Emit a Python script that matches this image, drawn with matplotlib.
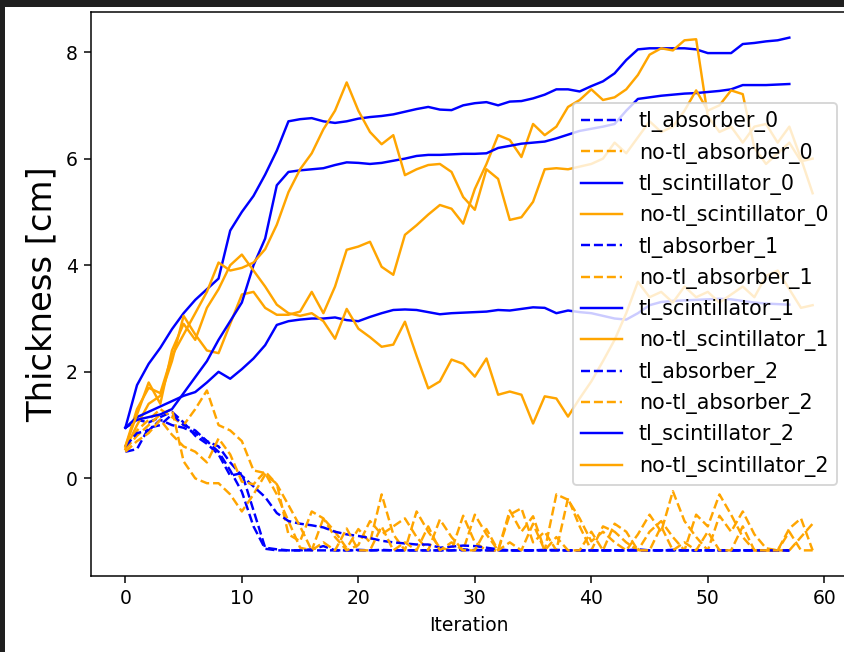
import matplotlib
matplotlib.use("Agg")
import matplotlib.pyplot as plt
from matplotlib.patches import Rectangle

# iterations
it_tl = list(range(58))
it_notl = list(range(60))

# absorber thickness (dashed)
tl_absorber = [
    [0.95, 1.1, 1.05, 1.15, 1.25, 1.05, 0.8, 0.65, 0.45, 0.05, 0.1, -0.6, -1.3, -1.33, -1.35,
     -1.35, -1.33, -1.27, -1.35, -1.35, -1.35, -1.35, -1.34, -1.35, -1.35, -1.35, -1.35, -1.35, -1.35, -1.35,
     -1.34, -1.35, -1.35, -1.35, -1.35, -1.35, -1.35, -1.34, -1.35, -1.35, -1.35, -1.35, -1.35, -1.35, -1.35,
     -1.35, -1.35, -1.34, -1.35, -1.35, -1.35, -1.35, -1.35, -1.35, -1.35, -1.35, -1.35, -1.35],
    [0.5, 0.55, 0.95, 1.0, 1.2, 1.0, 0.9, 0.7, 0.5, 0.15, -0.25, -0.9, -1.32, -1.35, -1.35,
     -1.35, -1.35, -1.35, -1.35, -1.35, -1.34, -1.35, -1.35, -1.35, -1.35, -1.35, -1.35, -1.35, -1.35, -1.33,
     -1.35, -1.35, -1.35, -1.35, -1.35, -1.35, -1.34, -1.35, -1.35, -1.35, -1.35, -1.35, -1.35, -1.35, -1.33,
     -1.35, -1.35, -1.35, -1.35, -1.35, -1.35, -1.35, -1.35, -1.35, -1.35, -1.35, -1.35, -1.35],
    [0.6, 0.85, 0.9, 1.1, 1.0, 0.95, 0.85, 0.7, 0.6, 0.3, 0.05, -0.15, -0.35, -0.65, -0.8,
     -0.85, -0.88, -0.92, -1.0, -1.05, -1.08, -1.12, -1.17, -1.2, -1.22, -1.24, -1.24, -1.3, -1.28, -1.26,
     -1.27, -1.3, -1.33, -1.35, -1.35, -1.35, -1.35, -1.35, -1.35, -1.35, -1.35, -1.35, -1.35, -1.35, -1.35,
     -1.35, -1.35, -1.35, -1.35, -1.35, -1.35, -1.35, -1.35, -1.35, -1.35, -1.35, -1.35, -1.35],
]
notl_absorber = [
    [0.6, 0.9, 1.1, 1.3, 1.15, 1.0, 1.3, 1.65, 1.0, 0.9, 0.7, 0.15, 0.1, -0.3, -0.8,
     -1.3, -1.35, -0.75, -1.0, -1.31, -0.95, -1.2, -0.3, -1.05, -1.35, -0.62, -1.0, -1.3, -1.35, -0.7,
     -1.2, -1.35, -1.35, -0.6, -1.0, -0.71, -1.35, -0.3, -0.4, -0.75, -1.18, -1.0, -1.2, -1.35, -1.05,
     -0.68, -1.0, -0.24, -0.8, -1.1, -1.35, -0.7, -1.0, -0.62, -1.05, -1.31, -1.35, -0.94, -0.75, -1.35],
    [0.55, 0.8, 1.0, 1.2, 1.3, 0.32, 0.0, -0.09, -0.09, -0.3, -0.62, -0.3, 0.07, -0.1, -1.05,
     -1.18, -0.62, -0.75, -1.1, -1.35, -1.25, -0.8, -1.05, -0.9, -0.75, -1.1, -1.35, -0.77, -1.1, -1.35,
     -0.68, -1.05, -1.35, -0.68, -0.56, -1.2, -1.0, -1.35, -0.37, -0.9, -1.35, -0.9, -1.0, -1.2, -1.35,
     -1.0, -0.8, -1.1, -1.35, -0.68, -0.9, -0.3, -0.68, -1.1, -1.35, -1.35, -1.35, -1.35, -1.1, -0.85],
    [0.5, 0.7, 0.85, 1.1, 0.82, 0.6, 0.5, 0.3, 0.75, 0.45, -0.06, -0.11, 0.13, -0.11, -0.5,
     -0.9, -1.35, -1.2, -1.35, -0.94, -1.35, -1.35, -0.9, -1.35, -1.2, -1.35, -0.9, -1.35, -1.2, -1.35,
     -1.35, -0.95, -1.35, -1.2, -1.35, -0.85, -1.35, -1.1, -1.35, -1.35, -1.0, -1.35, -0.85, -1.0, -1.35,
     -1.35, -0.9, -1.35, -1.2, -1.35, -1.0, -1.35, -1.35, -0.9, -1.35, -1.35, -1.35, -1.0, -1.35, -1.35],
]

# scintillator thickness (solid)
tl_scintillator = [
    [0.95, 1.75, 2.15, 2.45, 2.8, 3.1, 3.35, 3.55, 3.75, 4.65, 5.0, 5.3, 5.7, 6.15, 6.7,
     6.74, 6.76, 6.7, 6.67, 6.7, 6.75, 6.78, 6.8, 6.83, 6.88, 6.93, 6.97, 6.92, 6.91, 7.0,
     7.04, 7.06, 7.0, 7.07, 7.08, 7.13, 7.2, 7.3, 7.3, 7.26, 7.36, 7.45, 7.6, 7.85, 8.05,
     8.07, 8.07, 8.07, 8.07, 8.05, 7.98, 7.98, 7.98, 8.15, 8.17, 8.2, 8.22, 8.27],
    [0.95, 1.1, 1.15, 1.2, 1.3, 1.6, 1.9, 2.2, 2.6, 2.95, 3.3, 4.0, 4.5, 5.5, 5.75,
     5.78, 5.8, 5.82, 5.88, 5.93, 5.92, 5.9, 5.92, 5.96, 6.0, 6.05, 6.07, 6.07, 6.08, 6.09,
     6.09, 6.1, 6.2, 6.24, 6.28, 6.3, 6.32, 6.38, 6.45, 6.52, 6.56, 6.6, 6.65, 6.9, 7.12,
     7.15, 7.18, 7.2, 7.22, 7.23, 7.25, 7.27, 7.3, 7.38, 7.38, 7.38, 7.39, 7.4],
    [0.95, 1.15, 1.25, 1.35, 1.45, 1.55, 1.62, 1.8, 2.0, 1.87, 2.05, 2.25, 2.5, 2.88, 2.95,
     2.98, 3.0, 3.0, 3.02, 2.97, 2.95, 3.03, 3.1, 3.16, 3.17, 3.16, 3.12, 3.08, 3.1, 3.11,
     3.12, 3.13, 3.16, 3.15, 3.18, 3.21, 3.2, 3.1, 3.15, 3.12, 3.1, 3.05, 3.0, 2.98, 3.1,
     3.25, 3.31, 3.33, 3.34, 3.35, 3.36, 3.37, 3.36, 3.33, 3.3, 3.28, 3.27, 3.26],
]
notl_scintillator = [
    [0.55, 1.0, 1.4, 1.55, 2.2, 3.05, 2.7, 2.4, 2.35, 2.9, 3.45, 3.5, 3.2, 3.07, 3.07,
     3.13, 3.5, 3.1, 3.6, 4.29, 4.35, 4.44, 3.97, 3.82, 4.57, 4.75, 4.95, 5.13, 5.06, 4.78,
     5.43, 5.9, 6.44, 6.35, 6.03, 6.65, 6.44, 6.6, 6.97, 7.1, 7.3, 7.1, 7.15, 7.3, 7.57,
     7.95, 8.07, 8.03, 8.22, 8.24, 6.8, 6.5, 6.6, 6.3, 6.6, 6.65, 6.3, 6.6, 6.0, 5.35],
    [0.6, 1.3, 1.7, 1.6, 2.3, 2.7, 3.1, 3.5, 4.05, 3.9, 3.95, 4.05, 4.3, 4.76, 5.37,
     5.8, 6.1, 6.55, 6.9, 7.43, 6.9, 6.5, 6.27, 6.44, 5.69, 5.8, 5.88, 5.9, 5.75, 5.28,
     5.04, 5.8, 5.62, 4.85, 4.9, 5.19, 5.8, 5.82, 5.8, 5.85, 5.9, 6.0, 6.3, 6.1, 6.4,
     6.7, 6.5, 6.6, 6.9, 7.28, 6.9, 7.0, 7.28, 7.21, 6.2, 5.9, 6.1, 6.3, 5.95, 6.0],
    [0.6, 1.2, 1.8, 1.4, 2.4, 2.9, 2.6, 3.2, 3.55, 4.0, 4.2, 3.9, 3.6, 3.26, 3.1,
     3.05, 3.1, 2.95, 2.62, 3.18, 2.81, 2.65, 2.47, 2.51, 2.94, 2.3, 1.69, 1.82, 2.23, 2.15,
     1.91, 2.25, 1.57, 1.63, 1.57, 1.03, 1.54, 1.5, 1.16, 1.5, 1.82, 2.2, 2.6, 3.1, 3.69,
     3.4, 3.5, 3.3, 3.6, 3.4, 3.5, 3.3, 3.45, 3.6, 3.4, 3.8, 3.9, 3.55, 3.2, 3.25],
]

dpi = 135
fig = plt.figure(figsize=(844 / dpi, 652 / dpi), dpi=dpi)
# dark screenshot border around the white output cell
fig.patch.set_facecolor('#1f1f1f')
fig.patches.append(Rectangle((5 / 844, 0), 1, (652 - 7) / 652, transform=fig.transFigure,
                             facecolor='white', edgecolor='none', zorder=-1))

ax = fig.add_axes([91 / 844, 1 - 576 / 652, (847 - 91) / 844, (576 - 12) / 652])

lw = 1.3
for i in range(3):
    ax.plot(it_tl, tl_absorber[i], '--', color='blue', lw=lw, label='tl_absorber_%d' % i)
    ax.plot(it_notl, notl_absorber[i], '--', color='orange', lw=lw, label='no-tl_absorber_%d' % i)
    ax.plot(it_tl, tl_scintillator[i], '-', color='blue', lw=lw, label='tl_scintillator_%d' % i)
    ax.plot(it_notl, notl_scintillator[i], '-', color='orange', lw=lw, label='no-tl_scintillator_%d' % i)

ax.set_xlabel('Iteration')
ax.set_ylabel('Thickness [cm]', fontsize=18)
ax.legend(loc='center right', fontsize=11)

plt.savefig('out.png', dpi=dpi, facecolor=fig.get_facecolor())
